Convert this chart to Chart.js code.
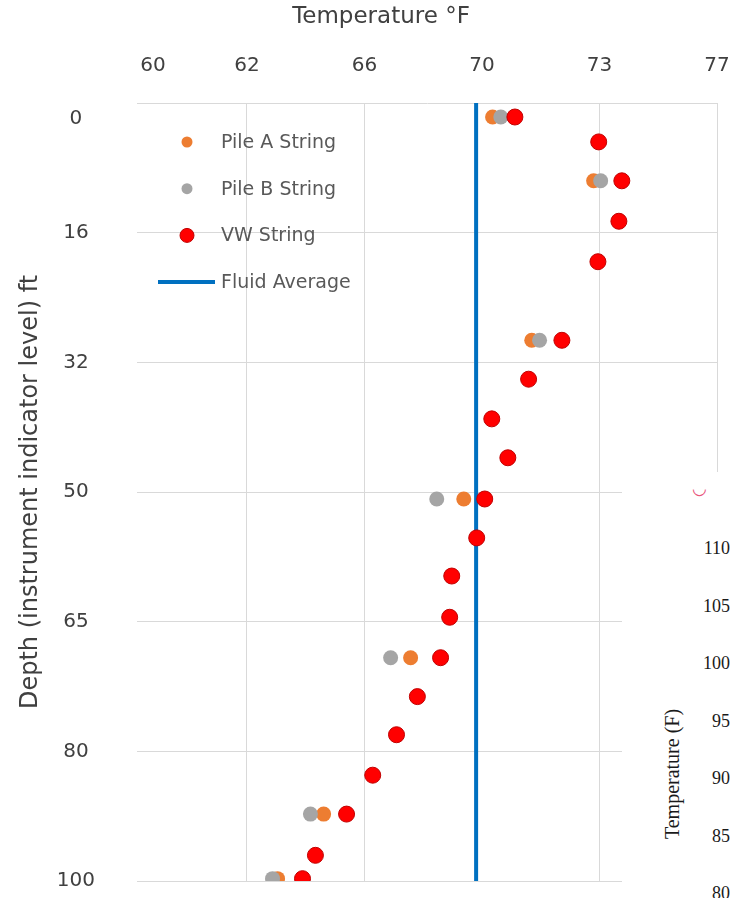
<!DOCTYPE html>
<html>
<head>
<meta charset="utf-8">
<script src="https://cdn.jsdelivr.net/npm/chart.js@4.4.1/dist/chart.umd.min.js"></script>
<style>
  html, body { margin: 0; padding: 0; background: #fff; }
  #wrap { position: relative; width: 746px; height: 898px; }
  #chart { display: block; }
  /* cropped piece of another figure pasted over the lower right corner */
  #snip { position: absolute; left: 622px; top: 472px; width: 124px; height: 426px;
          background: #fff; overflow: hidden; font-family: "Liberation Serif", serif; color: #1a1a1a; }
  #snip .tick { position: absolute; right: 16px; font-size: 18px; line-height: 18px; transform: translateY(-50%); }
  #snip .title { position: absolute; left: 50px; top: 302px; font-size: 20px; white-space: nowrap;
                 transform: translate(-50%, -50%) rotate(-90deg); }
  #snip .mark { position: absolute; left: 70px; top: 6px; font-size: 17px; color: #e8537a; }
</style>
</head>
<body>
<div id="wrap">
  <canvas id="chart" width="746" height="898"></canvas>
  <div id="snip">
    <span class="mark">◡</span>
    <span class="title">Temperature (F)</span>
  </div>
</div>
<script>
// Axis labels as printed on the figure (they are not evenly stepped)
const xTickLabels = [60, 62, 66, 70, 73, 77];
const yTickLabels = [0, 16, 32, 50, 65, 80, 100];

// Depth (ft) of each instrument level
const depthPile = [1.8, 10.0, 30.5, 50.9, 71.3, 91.4, 99.7];
const depthVW = [1.8, 5.0, 10.0, 15.2, 20.4, 30.5, 35.5, 40.6, 45.6, 50.9,
                 55.9, 60.8, 66.1, 71.3, 76.3, 81.2, 86.4, 91.4, 96.7, 99.7];

// Temperatures (°F)
const pileA = [70.27, 72.85, 71.27, 69.38, 67.57, 64.61, 63.04];
const pileB = [70.48, 73.04, 71.47, 68.46, 66.89, 64.16, 62.87];
const vwString = [70.84, 72.98, 73.76, 73.66, 72.96, 72.04, 71.19, 70.25, 70.66, 70.07,
                  69.82, 68.97, 68.90, 68.59, 67.80, 67.09, 66.28, 65.39, 64.33, 63.89];
const fluidAverage = [69.8];

// labels of the pasted-in corner
const snipTicks = [110, 105, 100, 95, 90, 85, 80];

// x axis runs in gridline slots; the printed labels sit one per slot
// (60 is printed just inside the left edge with no gridline)
const xTickSlots = [0.2, 1, 2, 3, 4, 5];
function tempToSlot(t) {
  for (let i = 1; i < xTickLabels.length; i++) {
    if (t <= xTickLabels[i] || i === xTickLabels.length - 1) {
      const a = xTickLabels[i - 1], b = xTickLabels[i];
      return xTickSlots[i - 1] + (t - a) / (b - a) * (xTickSlots[i] - xTickSlots[i - 1]);
    }
  }
}
// y gridlines split 0-100 ft in six; "0" is printed at the first level
const yTickDepths = yTickLabels.map((v, i) => i === 0 ? 2 : i * 100 / 6);

const toPoints = (temps, depths) => temps.map((t, i) => ({ x: tempToSlot(t), y: depths[i] }));

const FONT = '"DejaVu Sans", sans-serif';
const GRID = '#d9d9d9';
const NONE = 'rgba(0,0,0,0)';

const snip = document.getElementById('snip');
snipTicks.forEach((v, i) => {
  const s = document.createElement('span');
  s.className = 'tick';
  s.style.top = (76 + i * 57.5) + 'px';
  s.textContent = v;
  snip.appendChild(s);
});

// tick label padding would otherwise be added to the layout margins
function noLabelPadding(scale) {
  scale.paddingLeft = scale.paddingRight = scale.paddingTop = scale.paddingBottom = 0;
}

const overlayText = {
  id: 'overlayText',
  afterDraw(chart) {
    const { ctx, chartArea } = chart;
    ctx.save();
    // axis title above the tick labels
    ctx.font = '23px ' + FONT;
    ctx.fillStyle = '#404040';
    ctx.textAlign = 'center';
    ctx.textBaseline = 'middle';
    ctx.fillText('Temperature °F', 381, 17);

    // legend inside the plot
    ctx.font = '19px ' + FONT;
    ctx.textAlign = 'left';
    const mx = chartArea.left + 50;
    chart.data.datasets.forEach((ds, i) => {
      const y = chartArea.top + 39 + i * 46.7;
      if (ds.type === 'line') {
        ctx.strokeStyle = ds.borderColor;
        ctx.lineWidth = 4;
        ctx.beginPath();
        ctx.moveTo(mx - 29, y);
        ctx.lineTo(mx + 28, y);
        ctx.stroke();
      } else {
        ctx.beginPath();
        ctx.arc(mx, y, ds.legendRadius, 0, Math.PI * 2);
        ctx.fillStyle = ds.backgroundColor;
        ctx.fill();
        if (ds.borderWidth) {
          ctx.strokeStyle = ds.borderColor;
          ctx.lineWidth = ds.borderWidth;
          ctx.stroke();
        }
      }
      ctx.fillStyle = '#595959';
      ctx.fillText(ds.label, chartArea.left + 84, y + 1);
    });
    ctx.restore();
  }
};

new Chart(document.getElementById('chart'), {
  type: 'scatter',
  data: {
    datasets: [
      {
        label: 'Pile A String',
        data: toPoints(pileA, depthPile),
        backgroundColor: '#ED7D31',
        borderWidth: 0,
        pointRadius: 7.5,
        legendRadius: 5.5,
        order: 2
      },
      {
        label: 'Pile B String',
        data: toPoints(pileB, depthPile),
        backgroundColor: '#A5A5A5',
        borderWidth: 0,
        pointRadius: 7.5,
        legendRadius: 5.5,
        order: 1
      },
      {
        label: 'VW String',
        data: toPoints(vwString, depthVW),
        backgroundColor: '#FF0000',
        borderColor: '#C00000',
        borderWidth: 1,
        pointRadius: 8,
        legendRadius: 7,
        order: 0
      },
      {
        type: 'line',
        label: 'Fluid Average',
        data: [{ x: tempToSlot(fluidAverage[0]), y: 0 }, { x: tempToSlot(fluidAverage[0]), y: 100 }],
        borderColor: '#0070C0',
        borderWidth: 4,
        pointRadius: 0,
        order: 3
      }
    ]
  },
  options: {
    responsive: false,
    animation: false,
    layout: { padding: { left: 0, right: 29, top: 0, bottom: 17 } },
    plugins: {
      legend: { display: false },
      tooltip: { enabled: false }
    },
    scales: {
      x: {
        type: 'linear',
        position: 'top',
        min: 0.064,
        max: 5,
        afterBuildTicks: scale => { scale.ticks = xTickSlots.map(v => ({ value: v })); },
        afterFit: scale => { scale.height = 103; noLabelPadding(scale); },
        grid: {
          // no line for 60, and the 70 line is lost under the fluid average
          color: c => (c.index === 0 || c.index === 3) ? NONE : GRID,
          lineWidth: 1,
          drawTicks: false
        },
        border: { display: true, color: GRID, width: 1 },
        ticks: {
          padding: 25,
          color: '#404040',
          font: { family: FONT, size: 20 },
          maxRotation: 0,
          callback: (v, i) => xTickLabels[i]
        }
      },
      y: {
        type: 'linear',
        reverse: true,
        min: 0,
        max: 100,
        afterBuildTicks: scale => { scale.ticks = yTickDepths.map(v => ({ value: v })); },
        afterFit: scale => { scale.width = 137; noLabelPadding(scale); },
        grid: {
          color: c => c.index === 0 ? NONE : GRID,
          lineWidth: 1,
          drawTicks: false
        },
        border: { display: false },
        ticks: {
          padding: 42,
          crossAlign: 'center',
          color: '#404040',
          font: { family: FONT, size: 20 },
          callback: (v, i) => yTickLabels[i]
        },
        title: {
          display: true,
          text: 'Depth (instrument indicator level) ft',
          color: '#404040',
          font: { family: FONT, size: 24 },
          padding: { top: 16, bottom: 0 }
        }
      }
    }
  },
  plugins: [overlayText]
});
</script>
</body>
</html>
